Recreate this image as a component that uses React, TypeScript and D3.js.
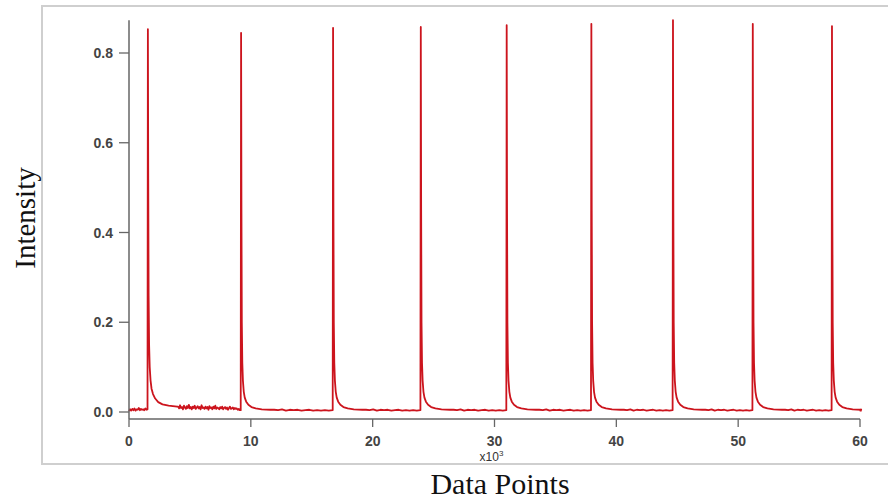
import React from "react";
import * as d3 from "d3";

// Peak centres (x10^3 data points) and their maximum intensities
const peakPositions = [1.55, 9.2, 16.75, 23.95, 31.0, 37.95, 44.65, 51.2, 57.7];
const peakHeights = [0.853, 0.845, 0.856, 0.858, 0.862, 0.865, 0.873, 0.865, 0.86];

// Shape of one peak: offsets from the peak centre and the intensity there
// (index 1 is the peak maximum, filled from peakHeights)
const profileOffsets = [-0.03, 0, 0.03, 0.06, 0.1, 0.15, 0.22, 0.3, 0.42, 0.6, 0.85, 1.2, 1.7, 2.4];
const profileValues = [0.004, 0, 0.45, 0.2, 0.11, 0.07, 0.045, 0.032, 0.023, 0.016, 0.011, 0.008, 0.006, 0.005];
const firstTailValues = [0.006, 0, 0.52, 0.26, 0.15, 0.1, 0.07, 0.052, 0.04, 0.03, 0.022, 0.017, 0.014, 0.012];

// Baseline before the first peak
const leadBaseline = [0.002, 0.006, 0.003, 0.007, 0.004, 0.008, 0.003, 0.006, 0.005, 0.009, 0.004, 0.007, 0.005, 0.006, 0.004, 0.008, 0.005];

// Noisy baseline between the first and second peaks
const firstGapBaseline = [
  0.012, 0.008, 0.015, 0.009, 0.011, 0.006, 0.014, 0.01, 0.007, 0.013, 0.009, 0.016, 0.008, 0.011, 0.006, 0.012,
  0.009, 0.014, 0.007, 0.01, 0.013, 0.008, 0.011, 0.006, 0.015, 0.009, 0.01, 0.007, 0.012, 0.008, 0.011, 0.005,
  0.013, 0.009, 0.01, 0.006, 0.012, 0.008, 0.014, 0.007, 0.01, 0.009, 0.006, 0.011, 0.008, 0.012, 0.006, 0.009,
  0.011, 0.007, 0.01, 0.005, 0.009, 0.012, 0.007, 0.008, 0.01, 0.006, 0.009, 0.007, 0.008, 0.005, 0.007, 0.004,
];

// Quieter baseline between the later peaks
const gapBaseline = [0.005, 0.004, 0.006, 0.003, 0.005, 0.004, 0.005, 0.003, 0.004, 0.005, 0.003, 0.004, 0.003, 0.004, 0.003];

const xTicks = [0, 10, 20, 30, 40, 50, 60];
const yTicks = [0.0, 0.2, 0.4, 0.6, 0.8];

const W = 888;
const H = 502;

function buildTrace(): [number, number][] {
  const pts: [number, number][] = [];
  // lead-in
  const leadEnd = peakPositions[0] + profileOffsets[0];
  leadBaseline.forEach((v, i) => pts.push([(leadEnd * i) / leadBaseline.length, v]));
  peakPositions.forEach((p, k) => {
    const vals = k === 0 ? firstTailValues : profileValues;
    profileOffsets.forEach((o, i) => pts.push([p + o, i === 1 ? peakHeights[k] : vals[i]]));
    const start = p + profileOffsets[profileOffsets.length - 1];
    const end = k < peakPositions.length - 1 ? peakPositions[k + 1] + profileOffsets[0] : 60;
    const base = k === 0 ? firstGapBaseline : gapBaseline;
    base.forEach((v, i) => pts.push([start + ((end - start) * (i + 1)) / (base.length + 1), v]));
    if (k === peakPositions.length - 1) pts.push([60, 0.003]);
  });
  return pts;
}

export default function App() {
  const x = d3.scaleLinear().domain([0, 60]).range([129, 860]);
  const y = d3.scaleLinear().domain([0, 0.8]).range([412, 53]);
  const axisBottom = 419;
  const axisTop = y(0.873);

  const trace = buildTrace();
  const line = d3
    .line<[number, number]>()
    .x((d) => x(d[0]))
    .y((d) => y(d[1]));

  const tickFont = "'Liberation Sans', Arial, sans-serif";
  const serif = "'Liberation Serif', 'Times New Roman', serif";
  const axisColor = "#666";

  return (
    <svg width={W} height={H} style={{ position: "absolute", left: 0, top: 0, background: "#fff" }}>
      {/* outer frame */}
      <path d={`M${W + 5},6 H42 V464 H${W + 5}`} fill="none" stroke="#cfcfcf" strokeWidth={2} />

      {/* data trace */}
      <path d={line(trace) ?? ""} fill="none" stroke="#cc141d" strokeWidth={1.8} strokeLinejoin="round" />

      {/* y axis */}
      <line x1={x(0)} x2={x(0)} y1={axisTop} y2={axisBottom} stroke={axisColor} strokeWidth={1.5} />
      {yTicks.map((t) => (
        <g key={t}>
          <line x1={x(0) - 10} x2={x(0)} y1={y(t)} y2={y(t)} stroke={axisColor} strokeWidth={1.3} />
          <text
            x={x(0) - 16}
            y={y(t)}
            textAnchor="end"
            dominantBaseline="central"
            fontFamily={tickFont}
            fontWeight="bold"
            fontSize={14}
            fill="#444"
          >
            {d3.format(".1f")(t)}
          </text>
        </g>
      ))}

      {/* x axis */}
      <line x1={x(0)} x2={x(60)} y1={axisBottom} y2={axisBottom} stroke={axisColor} strokeWidth={1.5} />
      {xTicks.map((t) => (
        <g key={t}>
          <line x1={x(t)} x2={x(t)} y1={axisBottom} y2={axisBottom + 8} stroke={axisColor} strokeWidth={1.3} />
          <text
            x={x(t)}
            y={446}
            textAnchor="middle"
            fontFamily={tickFont}
            fontWeight="bold"
            fontSize={14}
            fill="#444"
          >
            {t}
          </text>
        </g>
      ))}
      <text x={x(30) - 3} y={461} textAnchor="middle" fontFamily={tickFont} fontSize={12} fill="#333">
        x10<tspan dy={-5} fontSize={8}>3</tspan>
      </text>

      {/* axis titles */}
      <text
        transform={`translate(35,218) rotate(-90)`}
        textAnchor="middle"
        fontFamily={serif}
        fontSize={29}
        fill="#111"
      >
        Intensity
      </text>
      <text x={500} y={494} textAnchor="middle" fontFamily={serif} fontSize={30} fill="#111">
        Data Points
      </text>
    </svg>
  );
}
